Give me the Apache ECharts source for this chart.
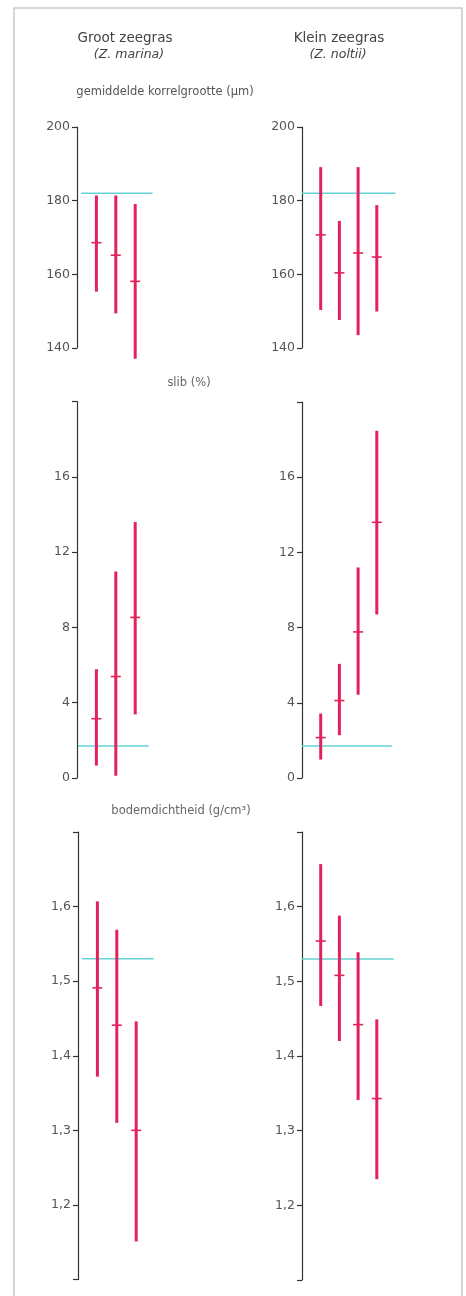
<!DOCTYPE html>
<html>
<head>
<meta charset="utf-8">
<script src="https://cdn.jsdelivr.net/npm/echarts@6/dist/echarts.min.js"></script>
<style>
html,body{margin:0;padding:0;background:#fff;}
#c{width:466px;height:1296px;}
</style>
</head>
<body>
<div id="c"></div>
<script>
// ---- data ----
const groups = ['Groot zeegras', 'Klein zeegras'];
const species = ['(Z. marina)', '(Z. noltii)'];
const variables = ['gemiddelde korrelgrootte (\u03bcm)', 'slib (%)', 'bodemdichtheid (g/cm\u00b3)'];

const korrelMarinaMean = [168.6, 165.2, 158.1];
const korrelMarinaLow  = [155.3, 149.4, 137.1];
const korrelMarinaHigh = [181.4, 181.4, 179.1];
const korrelNoltiiMean = [170.7, 160.4, 165.8, 164.7];
const korrelNoltiiLow  = [150.3, 147.6, 143.5, 149.9];
const korrelNoltiiHigh = [189.1, 174.5, 189.1, 178.8];
const korrelRef = 182;

const slibMarinaMean = [3.15, 5.39, 8.53];
const slibMarinaLow  = [0.66, 0.12, 3.38];
const slibMarinaHigh = [5.78, 10.97, 13.6];
const slibNoltiiMean = [2.15, 4.12, 7.77, 13.6];
const slibNoltiiLow  = [0.98, 2.28, 4.43, 8.7];
const slibNoltiiHigh = [3.43, 6.07, 11.2, 18.47];
const slibRef = 1.7;

const dichtMarinaMean = [1.491, 1.441, 1.300];
const dichtMarinaLow  = [1.372, 1.310, 1.151];
const dichtMarinaHigh = [1.607, 1.569, 1.446];
const dichtNoltiiMean = [1.554, 1.508, 1.442, 1.343];
const dichtNoltiiLow  = [1.467, 1.420, 1.341, 1.235];
const dichtNoltiiHigh = [1.657, 1.588, 1.539, 1.449];
const dichtRef = 1.53;

const korrelTicks = [140, 160, 180, 200];
const slibTicks = [0, 4, 8, 12, 16];
const dichtTicks = [1.2, 1.3, 1.4, 1.5, 1.6];

// ---- styling ----
const RED = '#e3225c';
const CYAN = '#63d3d6';
const AXIS = '#333';
const FONT = 'DejaVu Sans';

const panels = [
  {mean:korrelMarinaMean, low:korrelMarinaLow, high:korrelMarinaHigh, ref:korrelRef, min:140, max:200, interval:20, ticks:korrelTicks, dec:0, left:77, width:97, top:127, height:221, ref0:0.22, ref1:3.9},
  {mean:korrelNoltiiMean, low:korrelNoltiiLow, high:korrelNoltiiHigh, ref:korrelRef, min:140, max:200, interval:20, ticks:korrelTicks, dec:0, left:302, width:93.5, top:127, height:221, ref0:0, ref1:5},
  {mean:slibMarinaMean, low:slibMarinaLow, high:slibMarinaHigh, ref:slibRef, min:0, max:20, interval:4, ticks:slibTicks, dec:0, left:77, width:97, top:401.5, height:376.5, ref0:0.05, ref1:3.7},
  {mean:slibNoltiiMean, low:slibNoltiiLow, high:slibNoltiiHigh, ref:slibRef, min:0, max:20, interval:4, ticks:slibTicks, dec:0, left:302, width:93.5, top:402, height:376, ref0:0, ref1:4.8},
  {mean:dichtMarinaMean, low:dichtMarinaLow, high:dichtMarinaHigh, ref:dichtRef, min:1.1, max:1.7, interval:0.1, ticks:dichtTicks, dec:1, left:78, width:97, top:832, height:447.5, ref0:0.2, ref1:3.9},
  {mean:dichtNoltiiMean, low:dichtNoltiiLow, high:dichtNoltiiHigh, ref:dichtRef, min:1.1, max:1.7, interval:0.1, ticks:dichtTicks, dec:1, left:302, width:93.5, top:832, height:448, ref0:0, ref1:4.9}
];

function renderErr(params, api) {
  const x = api.value(0), lo = api.value(1), hi = api.value(2), m = api.value(3);
  const pLo = api.coord([x, lo]), pHi = api.coord([x, hi]), pM = api.coord([x, m]);
  return {type:'group', children:[
    {type:'line', shape:{x1:pLo[0], y1:pLo[1], x2:pHi[0], y2:pHi[1]}, style:{stroke:RED, lineWidth:3}},
    {type:'line', shape:{x1:pM[0]-5, y1:pM[1], x2:pM[0]+5, y2:pM[1]}, style:{stroke:RED, lineWidth:1.6}}
  ]};
}

const grid = [], xAxis = [], yAxis = [], series = [];
panels.forEach((p, i) => {
  grid.push({left:p.left, top:p.top, width:p.width, height:p.height});
  xAxis.push({type:'value', gridIndex:i, min:0, max:5, show:false});
  yAxis.push({
    type:'value', gridIndex:i, min:p.min, max:p.max, interval:p.interval,
    axisLine:{show:true, lineStyle:{color:AXIS, width:1.2}},
    axisTick:{show:true, length:5, lineStyle:{color:AXIS, width:1.2}},
    splitLine:{show:false},
    axisLabel:{
      margin:7, color:'#555', fontFamily:FONT, fontSize:12.5,
      formatter: v => {
        const hit = p.ticks.some(t => Math.abs(t - v) < 1e-6);
        if (!hit) return '';
        return p.dec ? v.toFixed(p.dec).replace('.', ',') : String(Math.round(v));
      }
    }
  });
  series.push({
    type:'line', xAxisIndex:i, yAxisIndex:i, symbol:'none', silent:true, z:1,
    lineStyle:{color:CYAN, width:1.6},
    data:[[p.ref0, p.ref], [p.ref1, p.ref]]
  });
  series.push({
    type:'custom', xAxisIndex:i, yAxisIndex:i, z:2, renderItem:renderErr,
    data:p.mean.map((m, k) => [k + 1, p.low[k], p.high[k], m])
  });
});

function txt(x, y, s, size, italic, color) {
  return {type:'text', x:x, y:y, style:{text:s, fontFamily:FONT, fontSize:size, fontStyle:italic?'italic':'normal', fill:color||'#444', textAlign:'center', textVerticalAlign:'middle'}};
}

const graphic = [
  {type:'rect', shape:{x:14, y:8, width:448, height:1300}, style:{fill:'none', stroke:'#c9c9c9', lineWidth:1.5}},
  txt(125, 38, groups[0], 13.5),
  txt(129, 55, species[0], 12.5, true),
  txt(339, 38, groups[1], 13.5),
  txt(338, 55, species[1], 12.5, true),
  txt(165, 92, variables[0], 11.5, false, '#555'),
  txt(189, 383, variables[1], 11.5, false, '#666'),
  txt(181, 811, variables[2], 11.5, false, '#666')
];

const chart = echarts.init(document.getElementById('c'), null, {renderer:'canvas'});
chart.setOption({animation:false, backgroundColor:'#fff', grid, xAxis, yAxis, series, graphic});
</script>
</body>
</html>
